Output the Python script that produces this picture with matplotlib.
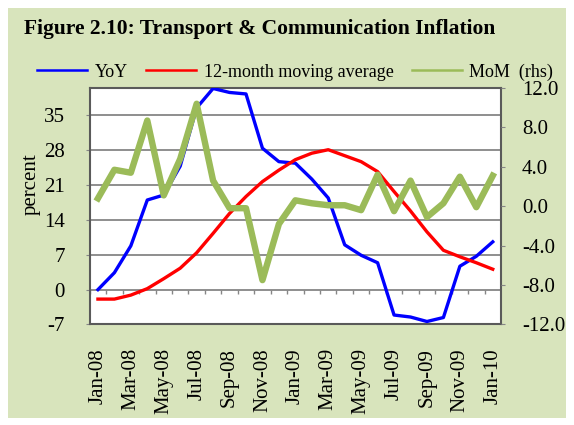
import matplotlib
matplotlib.use("Agg")
import matplotlib.pyplot as plt
from matplotlib.lines import Line2D
from matplotlib.patches import Rectangle
import numpy as np

months = ["Jan-08", "Feb-08", "Mar-08", "Apr-08", "May-08", "Jun-08", "Jul-08", "Aug-08",
          "Sep-08", "Oct-08", "Nov-08", "Dec-08", "Jan-09", "Feb-09", "Mar-09", "Apr-09",
          "May-09", "Jun-09", "Jul-09", "Aug-09", "Sep-09", "Oct-09", "Nov-09", "Dec-09",
          "Jan-10"]
yoy = [0.0, 3.4, 8.8, 18.0, 19.0, 24.8, 36.5, 40.4, 39.6, 39.3, 28.4, 25.7, 25.4,
       22.2, 18.4, 9.0, 6.9, 5.4, -5.1, -5.5, -6.4, -5.6, 4.7, 6.7, 9.6]
ma12 = [-1.9, -1.9, -1.1, 0.2, 2.2, 4.3, 7.4, 11.3, 15.3, 18.7, 21.7, 24.0, 26.1,
        27.4, 28.1, 26.9, 25.7, 23.7, 19.7, 15.8, 11.6, 7.9, 6.6, 5.4, 4.1]
mom = [0.8, 3.7, 3.4, 8.7, 1.1, 4.8, 10.4, 2.6, -0.2, -0.2, -7.5, -1.8, 0.6,
       0.3, 0.1, 0.1, -0.4, 3.2, -0.5, 2.6, -1.1, 0.3, 3.0, -0.1, 3.1]
left_ticks = [-7, 0, 7, 14, 21, 28, 35]
right_ticks = [-12, -8, -4, 0, 4, 8, 12]

bg = '#D8E4BC'
blue = '#0000FF'
red = '#FF0000'
green = '#9BBB59'
grid_gray = '#868686'
plt.rcParams['font.family'] = ['Liberation Serif', 'DejaVu Serif']

fig = plt.figure(figsize=(5.74, 4.25), dpi=100)
fig.patch.set_facecolor('white')
fig.add_artist(Rectangle((8 / 574, 7 / 425), 558 / 574, 410 / 425,
                         transform=fig.transFigure, facecolor=bg, edgecolor='none', zorder=-10))

ax = fig.add_axes([0.1563, 0.2365, 0.8728 - 0.1563, 0.793 - 0.2365])
ax.set_facecolor('white')
x = np.arange(len(months))

ax.set_ylim(-7, 40.5)
ax.set_xlim(-0.5, len(months) - 0.5)
ax.set_yticks(left_ticks)
ax.set_yticklabels([str(t) for t in left_ticks], fontsize=15)
for t in left_ticks[1:]:
    ax.axhline(t, color=grid_gray, lw=1.3, zorder=1)
# category axis sits at 0 with small tick marks between months
ax.vlines(np.arange(len(months) + 1) - 0.5, -0.9, 0, color=grid_gray, lw=1.0, zorder=1)

ax.set_xticks(x[::2])
ax.set_xticklabels(months[::2], rotation=90, fontsize=15)
ax.tick_params(axis='x', length=0, pad=17)
ax.tick_params(axis='y', length=3, color=grid_gray, pad=15, direction='out')
for s in ax.spines.values():
    s.set_color('#5a5a5a')
    s.set_linewidth(1.5)

ax.plot(x, yoy, color=blue, lw=2.4, zorder=4)
ax.plot(x, ma12, color=red, lw=2.4, zorder=4)

ax2 = ax.twinx()
ax2.set_ylim(-12, 12)
ax2.set_yticks(right_ticks)
ax2.set_yticklabels(['%.1f' % t for t in right_ticks], fontsize=15)
ax2.tick_params(axis='y', length=3, color=grid_gray, pad=12, direction='out')
for s in ax2.spines.values():
    s.set_visible(False)
ax2.patch.set_visible(False)
ax2.plot(x, mom, color=green, lw=4.6)

fig.text(31 / 574, 1 - 184 / 425, 'percent', rotation=90, fontsize=15,
         ha='center', va='center')
fig.text(24 / 574, 1 - 29 / 425, 'Figure 2.10: Transport & Communication Inflation',
         fontsize=15.5, fontweight='bold', va='center', ha='left')

handles = [Line2D([], [], color=blue, lw=1.8),
           Line2D([], [], color=red, lw=1.8),
           Line2D([], [], color=green, lw=1.8)]
fig.legend(handles, ['YoY', '12-month moving average', 'MoM  (rhs)'], ncol=3,
           loc='center', bbox_to_anchor=(295 / 574, 1 - 72 / 425), frameon=False,
           fontsize=13, handlelength=2.8, handletextpad=0.4, columnspacing=1.0,
           borderpad=0.2)

fig.savefig('out.png', dpi=100, facecolor='white')
